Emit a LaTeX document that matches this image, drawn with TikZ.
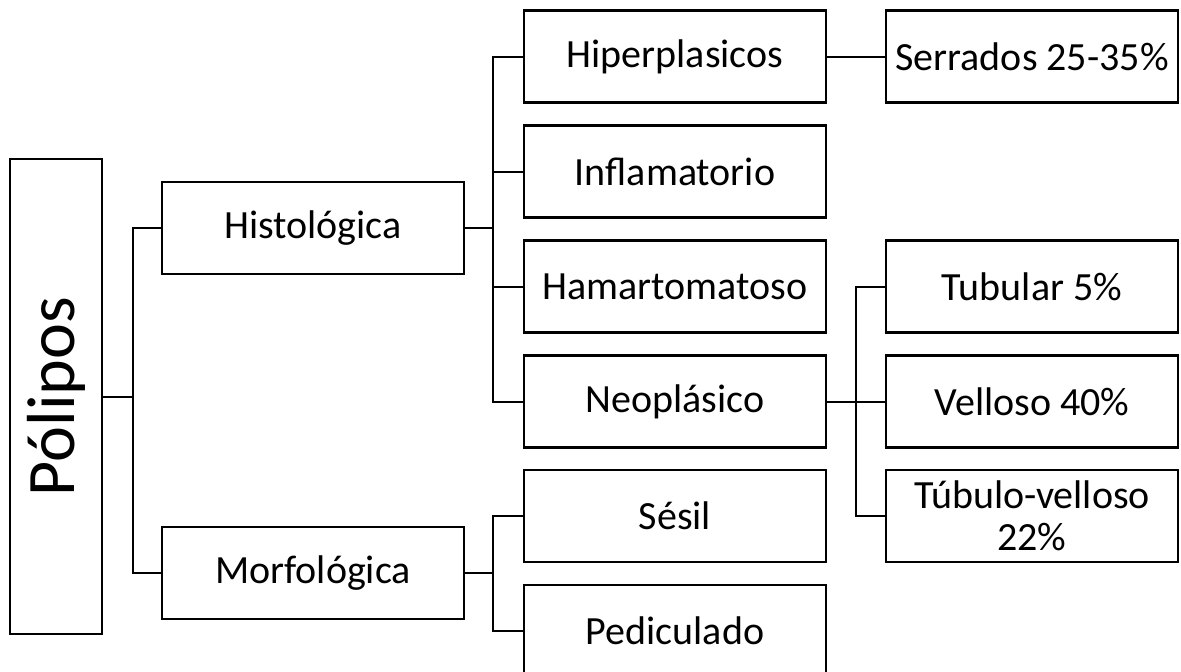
\documentclass[tikz,border=0pt]{standalone}
\usepackage{fontspec}
\setmainfont{Carlito}
\begin{document}
\begin{tikzpicture}[x=1pt,y=-1pt,
  box/.style={draw=black, line width=2.2pt, rectangle, inner sep=0pt,
    minimum height=92pt, align=center,
    font=\fontsize{40}{42}\selectfont},
  lvl2/.style={box, minimum width=302pt},
  lvl3/.style={box, minimum width=302pt},
  lvl4/.style={box, minimum width=292pt},
  link/.style={draw=black, line width=2pt}]
\useasboundingbox (0,0) rectangle (1181,672);

% root
\node[draw=black, line width=2.2pt, rectangle, inner sep=0pt,
  minimum width=92pt, minimum height=475pt,
  font=\fontsize{68}{72}\selectfont] (pol) at (56,396.5) {\rotatebox{90}{Pólipos}};

% second level
\node[lvl2] (hist) at (313,228) {Histológica};
\node[lvl2] (morf) at (313,573) {Morfológica};

% third level
\node[lvl3] (hip) at (675,56.5) {Hiperplasicos};
\node[lvl3] (inf) at (675,171.5) {Inflamatorio};
\node[lvl3] (ham) at (675,286.5) {Hamartomatoso};
\node[lvl3] (neo) at (675,401.5) {Neoplásico};
\node[lvl3] (ses) at (675,516) {Sésil};
\node[lvl3] (ped) at (675,631) {Pediculado};

% fourth level
\node[lvl4] (ser) at (1032,56.5) {Serrados 25-35\%};
\node[lvl4] (tub) at (1032,286.5) {Tubular 5\%};
\node[lvl4] (vel) at (1032,401.5) {Velloso 40\%};
\node[lvl4] (tv)  at (1032,516) {Túbulo-velloso\\22\%};

% vertical bus lines
\coordinate (b1) at (133,0);
\coordinate (b2) at (493,0);
\coordinate (b3) at (856,0);

% Pólipos -> Histológica / Morfológica
\draw[link] (pol.east) -- (pol.east -| b1);
\draw[link] (hist.west) -- (hist.west -| b1) -- (morf.west -| b1) -- (morf.west);

% Histológica -> types
\draw[link] (hist.east) -- (hist.east -| b2);
\draw[link] (hip.west) -- (hip.west -| b2) -- (neo.west -| b2) -- (neo.west);
\draw[link] (inf.west) -- (inf.west -| b2);
\draw[link] (ham.west) -- (ham.west -| b2);

% Morfológica -> forms
\draw[link] (morf.east) -- (morf.east -| b2);
\draw[link] (ses.west) -- (ses.west -| b2) -- (ped.west -| b2) -- (ped.west);

% Hiperplasicos -> Serrados
\draw[link] (hip.east) -- (ser.west);

% Neoplásico -> subtypes
\draw[link] (neo.east) -- (neo.east -| b3);
\draw[link] (tub.west) -- (tub.west -| b3) -- (tv.west -| b3) -- (tv.west);
\draw[link] (vel.west) -- (vel.west -| b3);
\end{tikzpicture}
\end{document}
